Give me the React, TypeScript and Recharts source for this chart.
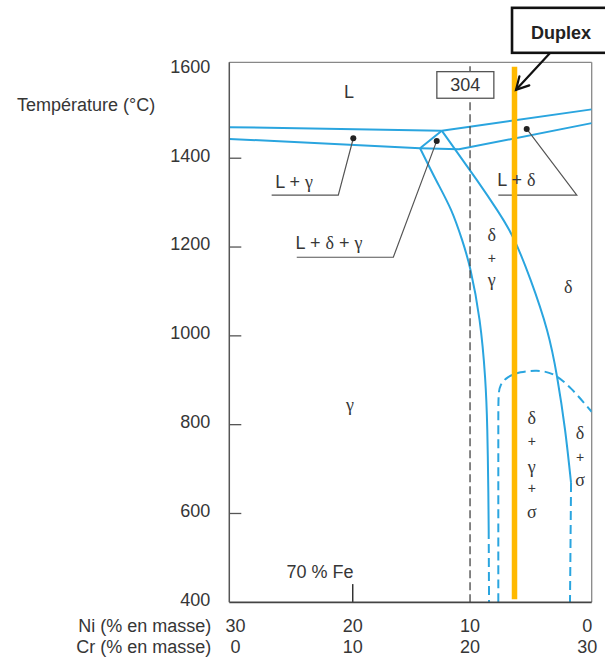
import React from 'react';
import { ComposedChart, Line, XAxis, YAxis, ReferenceLine, ReferenceDot } from 'recharts';

// Vertical section of Fe-Cr-Ni at 70 % Fe. x = Cr (% en masse), Ni = 30 - Cr.
const CR_TICKS = [0, 10, 20, 30];
const T_TICKS = [400, 600, 800, 1000, 1200, 1400, 1600];
const CR_DOMAIN: [number, number] = [-0.52, 30.37];
const T_DOMAIN: [number, number] = [400, 1616];

// liquidus / solidus
const liquidusGamma = [{ cr: -0.52, t: 1470 }, { cr: 17.59, t: 1462 }];
const liquidusDelta = [{ cr: 17.59, t: 1462 }, { cr: 30.37, t: 1510 }];
const solidus = [
  { cr: -0.52, t: 1443.5 },
  { cr: 15.74, t: 1422.5 },
  { cr: 19.06, t: 1420 },
  { cr: 30.37, t: 1479 },
];
const triangleSide = [{ cr: 15.74, t: 1422.5 }, { cr: 17.59, t: 1462 }];

// gamma / (delta + gamma) boundary
const gammaSolvus = [
  { cr: 15.74, t: 1422.5 },
  { cr: 17.1, t: 1351 },
  { cr: 18.38, t: 1283.6 },
  { cr: 19.32, t: 1216 },
  { cr: 20.04, t: 1148.4 },
  { cr: 20.81, t: 1035.8 },
  { cr: 21.28, t: 907.4 },
  { cr: 21.47, t: 788 },
  { cr: 21.56, t: 646.2 },
  { cr: 21.59, t: 562.8 },
];
const gammaSolvusLow = [{ cr: 21.59, t: 562.8 }, { cr: 21.62, t: 400 }];

// delta / (delta + gamma) boundary
const deltaSolvus = [
  { cr: 17.59, t: 1462 },
  { cr: 20.57, t: 1351.1 },
  { cr: 22.3, t: 1283.6 },
  { cr: 23.69, t: 1220.5 },
  { cr: 25.16, t: 1125.9 },
  { cr: 26.56, t: 1013.3 },
  { cr: 27.42, t: 907.4 },
  { cr: 28.1, t: 788 },
  { cr: 28.61, t: 668.7 },
];
const deltaSolvusLow = [{ cr: 28.61, t: 668.7 }, { cr: 28.52, t: 400 }];

// sigma dome
const sigmaDome = [
  { cr: 22.41, t: 400 },
  { cr: 22.41, t: 600 },
  { cr: 22.41, t: 800 },
  { cr: 22.41, t: 870 },
  { cr: 22.55, t: 889 },
  { cr: 23.13, t: 908 },
  { cr: 24.26, t: 919 },
  { cr: 25.69, t: 923 },
  { cr: 27.1, t: 917 },
  { cr: 28.52, t: 886 },
  { cr: 30.37, t: 829 },
];

const steel304 = [{ cr: 20, t: 400 }, { cr: 20, t: 1616 }];
const duplex = [{ cr: 23.79, t: 407 }, { cr: 23.79, t: 1606 }];

// label leaders: underline then pointer to the dot
const leaderGamma = [{ cr: 3.09, t: 1317 }, { cr: 8.77, t: 1317 }, { cr: 10.05, t: 1445 }];
const leaderTriple = [{ cr: 5.23, t: 1177 }, { cr: 13.46, t: 1177 }, { cr: 17.16, t: 1439 }];
const leaderDelta = [{ cr: 22.41, t: 1317 }, { cr: 29.1, t: 1317 }, { cr: 24.83, t: 1466 }];
const leaderDots = [
  { cr: 10.05, t: 1445 },
  { cr: 17.16, t: 1439 },
  { cr: 24.83, t: 1466 },
];

const phaseLabels = [
  { cr: 9.68, t: 1549, text: 'L' },
  { cr: 5.0, t: 1347, text: 'L + γ' },
  { cr: 7.98, t: 1209, text: 'L + δ + γ' },
  { cr: 23.95, t: 1351, text: 'L + δ' },
  { cr: 21.85, t: 1227, text: 'δ' },
  { cr: 21.85, t: 1175, text: '+' },
  { cr: 21.85, t: 1126, text: 'γ' },
  { cr: 28.38, t: 1111, text: 'δ' },
  { cr: 9.76, t: 844, text: 'γ' },
  { cr: 25.26, t: 815, text: 'δ' },
  { cr: 25.26, t: 762, text: '+' },
  { cr: 25.26, t: 705, text: 'γ' },
  { cr: 25.26, t: 657, text: '+' },
  { cr: 25.26, t: 604, text: 'σ' },
  { cr: 29.38, t: 781, text: 'δ' },
  { cr: 29.38, t: 728, text: '+' },
  { cr: 29.38, t: 675, text: 'σ' },
  { cr: 7.21, t: 470, text: '70 % Fe' },
];

const BLUE = '#2AA5DF';
const INK = '#363636';
const SANS = '"Liberation Sans", Arial, sans-serif';
const SERIF = '"Liberation Serif", "Times New Roman", serif';
const DASH = '9 5';
const Y_GAP = 19;

const richText = (text: string) => {
  const runs = text.match(/[δγσ]+|[^δγσ]+/g) || [];
  return runs.map((r, i) =>
    /[δγσ]/.test(r) ? (
      <tspan key={i} fontFamily={SERIF}>{r}</tspan>
    ) : (
      <tspan key={i}>{r}</tspan>
    )
  );
};

const TempTick = (props: any) => {
  const { x, y, payload } = props;
  const axisX = x + Y_GAP;
  return (
    <g>
      <text x={x} y={y - 3} dy="0.35em" textAnchor="end" fontSize={18} fontFamily={SANS} fill={INK}>
        {payload.value}
      </text>
      {payload.value > 400 && payload.value < 1600 && (
        <line x1={axisX} x2={axisX + 12} y1={y} y2={y} stroke="#555" strokeWidth={1.3} />
      )}
    </g>
  );
};

const CompTick = (props: any) => {
  const { x, y, payload } = props;
  return (
    <g fontSize={18} fontFamily={SANS} fill={INK}>
      <text x={x} y={y + 30} textAnchor="middle">{30 - payload.value}</text>
      <text x={x} y={y + 51} textAnchor="middle">{payload.value}</text>
    </g>
  );
};

const CompTitles = (props: any) => {
  const vb = props.viewBox || { x: 229.3, y: 602.3 };
  return (
    <g fontSize={18} fontFamily={SANS} fill={INK}>
      <text x={vb.x - 18} y={vb.y + 30} textAnchor="end">Ni (% en masse)</text>
      <text x={vb.x - 18} y={vb.y + 51} textAnchor="end">Cr (% en masse)</text>
    </g>
  );
};

const TempTitle = (props: any) => {
  const vb = props.viewBox || { x: 0, y: 62.3 };
  return (
    <text x={vb.x + 17} y={vb.y + 49} fontSize={18} fontFamily={SANS} fill={INK}>
      Température (°C)
    </text>
  );
};

const ArrowShape = (p: any) => {
  const { x1, y1, x2, y2 } = p;
  const a = Math.atan2(y2 - y1, x2 - x1);
  const len = 14;
  const spread = 0.5;
  const w1x = x2 - len * Math.cos(a - spread);
  const w1y = y2 - len * Math.sin(a - spread);
  const w2x = x2 - len * Math.cos(a + spread);
  const w2y = y2 - len * Math.sin(a + spread);
  return (
    <g stroke="#111" strokeWidth={2.2} fill="none" strokeLinecap="round">
      <line x1={x1} y1={y1} x2={x2} y2={y2} />
      <polyline points={`${w1x},${w1y} ${x2},${y2} ${w2x},${w2y}`} />
    </g>
  );
};

const curve = (key: string, data: any[], type: any, dashed = false) => (
  <Line
    key={key}
    data={data}
    dataKey="t"
    type={type}
    stroke={BLUE}
    strokeWidth={2}
    strokeDasharray={dashed ? DASH : undefined}
    dot={false}
    activeDot={false}
    isAnimationActive={false}
  />
);

const leader = (key: string, data: any[]) => (
  <Line
    key={key}
    data={data}
    dataKey="t"
    type="linear"
    stroke="#555"
    strokeWidth={1.2}
    dot={false}
    activeDot={false}
    isAnimationActive={false}
  />
);

export default function App() {
  return (
    <div style={{ position: 'absolute', left: 0, top: 0, width: 605, height: 657, background: '#fff' }}>
      <ComposedChart width={605} height={657} margin={{ top: 62.3, right: 13.3, bottom: 0, left: 0 }}>
        <XAxis
          type="number"
          dataKey="cr"
          domain={CR_DOMAIN}
          ticks={CR_TICKS}
          allowDataOverflow
          height={54.7}
          tickSize={0}
          tickMargin={0}
          tickLine={false}
          axisLine={{ stroke: '#444', strokeWidth: 1.8 }}
          tick={<CompTick />}
          label={CompTitles}
        />
        <YAxis
          type="number"
          domain={T_DOMAIN}
          ticks={T_TICKS}
          allowDataOverflow
          width={229.3}
          tickSize={0}
          tickMargin={Y_GAP}
          tickLine={false}
          axisLine={{ stroke: '#555', strokeWidth: 1.5 }}
          tick={<TempTick />}
          label={TempTitle}
        />

        <ReferenceLine y={1616} stroke="#888" strokeWidth={1.3} />
        <ReferenceLine x={30.37} stroke="#888" strokeWidth={1.3} />
        <ReferenceLine
          segment={[{ x: 10, y: 400 }, { x: 10, y: 441 }]}
          stroke="#333"
          strokeWidth={1.5}
        />

        {curve('liqG', liquidusGamma, 'linear')}
        {curve('liqD', liquidusDelta, 'linear')}
        {curve('sol', solidus, 'linear')}
        {curve('tri', triangleSide, 'linear')}
        {curve('gs', gammaSolvus, 'natural')}
        {curve('gsl', gammaSolvusLow, 'linear', true)}
        {curve('ds', deltaSolvus, 'natural')}
        {curve('dsl', deltaSolvusLow, 'linear', true)}
        {curve('sig', sigmaDome, 'basis', true)}

        {leader('lg', leaderGamma)}
        {leader('lt', leaderTriple)}
        {leader('ld', leaderDelta)}

        <Line
          data={steel304}
          dataKey="t"
          type="linear"
          stroke="#444"
          strokeWidth={1.3}
          strokeDasharray="8 4"
          dot={false}
          activeDot={false}
          isAnimationActive={false}
        />

        {leaderDots.map((d, i) => (
          <ReferenceDot key={`dot${i}`} x={d.cr} y={d.t} r={3} fill="#222" stroke="none" />
        ))}

        {phaseLabels.map((l, i) => (
          <ReferenceDot
            key={`lab${i}`}
            x={l.cr}
            y={l.t}
            r={0}
            ifOverflow="visible"
            shape={(p: any) => (
              <text
                x={p.cx}
                y={p.cy}
                dy="0.35em"
                textAnchor="middle"
                fontSize={l.text === '+' ? 14 : 18}
                fontFamily={SANS}
                fill={INK}
              >
                {richText(l.text)}
              </text>
            )}
          />
        ))}

        <Line
          data={duplex}
          dataKey="t"
          type="linear"
          stroke="#FFB900"
          strokeWidth={5.5}
          dot={false}
          activeDot={false}
          isAnimationActive={false}
        />

        <ReferenceDot
          x={19.6}
          y={1565}
          r={0}
          ifOverflow="visible"
          shape={(p: any) => (
            <g>
              <rect x={p.cx - 28.5} y={p.cy - 13.3} width={57} height={26.6} fill="#fff" stroke="#555" strokeWidth={1.3} />
              <text x={p.cx} y={p.cy} dy="0.35em" textAnchor="middle" fontSize={18} fontFamily={SANS} fill={INK}>
                304
              </text>
            </g>
          )}
        />

        <ReferenceLine
          segment={[{ x: 26.82, y: 1637 }, { x: 23.92, y: 1554 }]}
          ifOverflow="visible"
          shape={ArrowShape}
        />
        <ReferenceDot
          x={27.67}
          y={1688}
          r={0}
          ifOverflow="visible"
          shape={(p: any) => (
            <g>
              <rect x={p.cx - 48} y={p.cy - 22.5} width={96} height={45} fill="#fff" stroke="#111" strokeWidth={2.6} />
              <text x={p.cx + 1} y={p.cy + 2} dy="0.35em" textAnchor="middle" fontSize={18} fontWeight="bold" fontFamily={SANS} fill="#222">
                Duplex
              </text>
            </g>
          )}
        />
      </ComposedChart>
    </div>
  );
}
